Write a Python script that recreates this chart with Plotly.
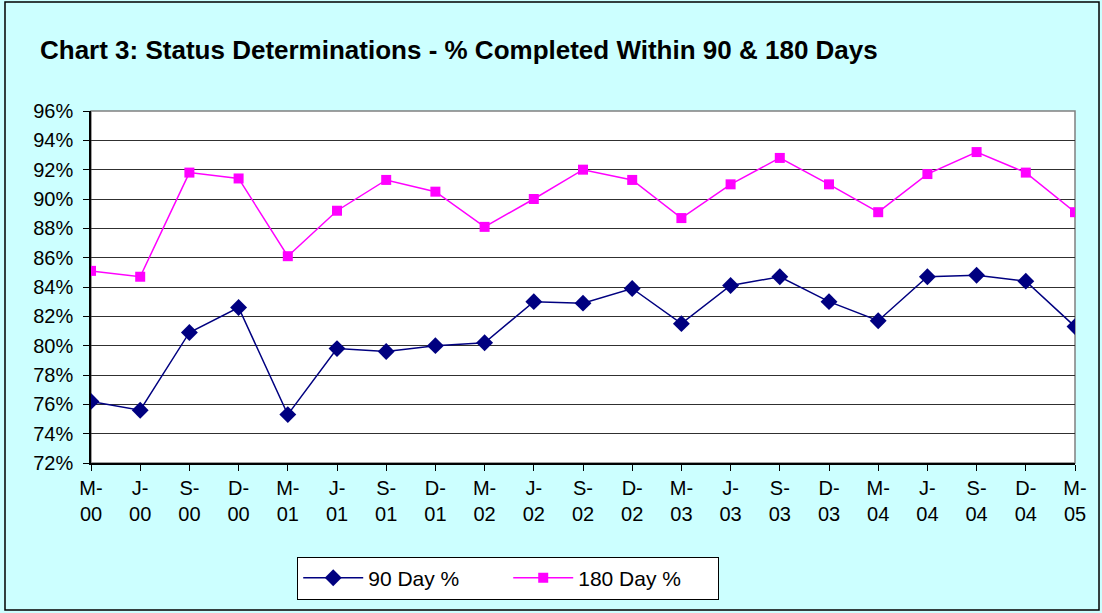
import plotly.graph_objects as go

# quarter labels (Mar/Jun/Sep/Dec)
periods = ["M-<br>00", "J-<br>00", "S-<br>00", "D-<br>00",
           "M-<br>01", "J-<br>01", "S-<br>01", "D-<br>01",
           "M-<br>02", "J-<br>02", "S-<br>02", "D-<br>02",
           "M-<br>03", "J-<br>03", "S-<br>03", "D-<br>03",
           "M-<br>04", "J-<br>04", "S-<br>04", "D-<br>04",
           "M-<br>05"]

day90 = [76.2, 75.6, 80.9, 82.6, 75.3, 79.8, 79.6, 80.0, 80.2, 83.0, 82.9,
         83.9, 81.5, 84.1, 84.7, 83.0, 81.7, 84.7, 84.8, 84.4, 81.3]
day180 = [85.1, 84.7, 91.8, 91.4, 86.1, 89.2, 91.3, 90.5, 88.1, 90.0, 92.0,
          91.3, 88.7, 91.0, 92.8, 91.0, 89.1, 91.7, 93.2, 91.8, 89.1]

yticks = list(range(72, 97, 2))
xpos = list(range(len(periods)))

fig = go.Figure()
fig.add_trace(go.Scatter(
    x=xpos, y=day90, name="90 Day %", mode="lines+markers",
    line=dict(color="#000080", width=1.5),
    marker=dict(symbol="diamond", size=13, color="#000080")))
fig.add_trace(go.Scatter(
    x=xpos, y=day180, name="180 Day %", mode="lines+markers",
    line=dict(color="#FF00FF", width=1.5),
    marker=dict(symbol="square", size=10, color="#FF00FF")))

fig.update_layout(
    width=1102, height=613,
    paper_bgcolor="#CCFFFF", plot_bgcolor="white",
    margin=dict(l=91, r=27, t=111, b=150),
    font=dict(family="Liberation Sans, Arial", size=20, color="black"),
    title=dict(text="<b>Chart 3: Status Determinations - % Completed Within 90 & 180 Days</b>",
               x=40/1102, xanchor="left", y=1-50/613, yanchor="middle",
               font=dict(size=26)),
    xaxis=dict(range=[0, 20], tickvals=xpos, ticktext=periods,
               showgrid=False, showline=True, linecolor="black", linewidth=1.5,
               ticks="outside", ticklen=6, tickcolor="black", mirror=False,
               zeroline=False),
    yaxis=dict(range=[72, 96], tickvals=yticks,
               ticktext=[f"{v}%" for v in yticks],
               showgrid=True, gridcolor="#303030", gridwidth=1,
               showline=True, linecolor="black", linewidth=1.5,
               ticks="outside", ticklen=6, tickcolor="black", zeroline=False,
               ticklabelstandoff=6),
    legend=dict(orientation="h", x=0.424, xanchor="center", y=-0.327,
                yanchor="middle", bgcolor="white", bordercolor="black",
                borderwidth=1, font=dict(size=21), itemwidth=60,
                entrywidth=135),
    showlegend=True,
)

# grey frame on top and right of plot area
fig.add_shape(type="rect", xref="paper", yref="paper", x0=0, x1=1, y0=0, y1=1,
              line=dict(color="#808080", width=1.5), layer="below")
# outer chart border
fig.add_shape(type="rect", xref="paper", yref="paper",
              x0=-0.0874, x1=1.0244, y0=-0.4176, y1=1.3097,
              line=dict(color="black", width=1.5))

# drop the default body margin so the figure fills the window
fig.write_html("out.html", config={"displayModeBar": False},
               post_script="document.body.style.margin='0';")
